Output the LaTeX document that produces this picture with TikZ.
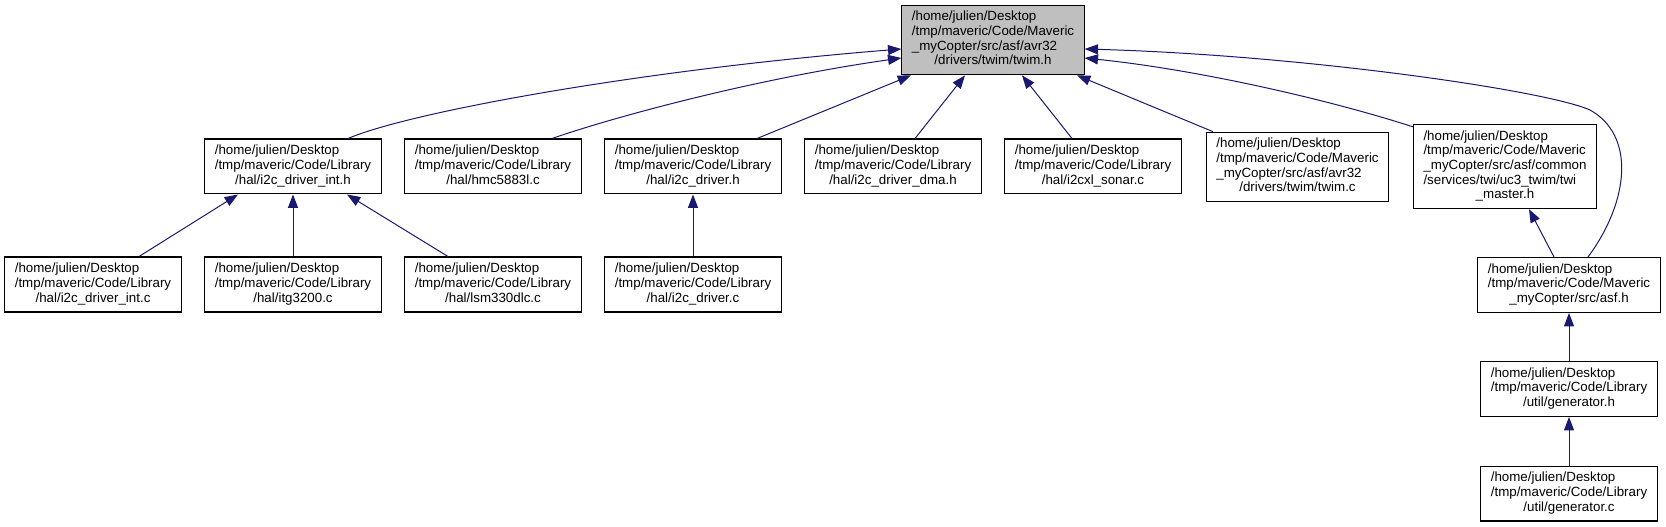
\documentclass[tikz,border=0pt]{standalone}
\usepackage{fontspec}
\setmainfont{Liberation Sans}
\usepackage{tikz}
\usetikzlibrary{arrows.meta, calc}
\definecolor{depblue}{RGB}{25,25,112}
\definecolor{curgray}{RGB}{191,191,191}
\newcommand{\plab}[2]{\begin{tabular}{@{}l@{}}#1\\\multicolumn{1}{@{}c@{}}{#2}\end{tabular}}
\tikzset{
  file/.style={rectangle, draw=black, fill=white, line width=0.8pt,
               inner xsep=7.5pt, inner ysep=4.1pt,
               font=\fontsize{10}{11}\selectfont},
  cur/.style={file, fill=curgray},
  dep/.style={-{Triangle[length=10pt, width=7.5pt]}, draw=depblue,
              line width=0.75pt}
}
\begin{document}
\begin{tikzpicture}[x=0.75pt, y=-0.75pt]
  \useasboundingbox (0,0) rectangle (1666,527);
  % included file
  \node[cur] (twimh) at (993,40)
    {\plab{/home/julien/Desktop\\/tmp/maveric/Code/Maveric\\\_myCopter/src/asf/avr32}{/drivers/twim/twim.h}};
  % direct includers
  \node[file] (drvinth) at (293,166.5)
    {\plab{/home/julien/Desktop\\/tmp/maveric/Code/Library}{/hal/i2c\_driver\_int.h}};
  \node[file] (hmcc) at (493,166.5)
    {\plab{/home/julien/Desktop\\/tmp/maveric/Code/Library}{/hal/hmc5883l.c}};
  \node[file] (drvh) at (693,166.5)
    {\plab{/home/julien/Desktop\\/tmp/maveric/Code/Library}{/hal/i2c\_driver.h}};
  \node[file] (dmah) at (893,166.5)
    {\plab{/home/julien/Desktop\\/tmp/maveric/Code/Library}{/hal/i2c\_driver\_dma.h}};
  \node[file] (sonarc) at (1093,166.5)
    {\plab{/home/julien/Desktop\\/tmp/maveric/Code/Library}{/hal/i2cxl\_sonar.c}};
  \node[file] (twimc) at (1297.5,167)
    {\plab{/home/julien/Desktop\\/tmp/maveric/Code/Maveric\\\_myCopter/src/asf/avr32}{/drivers/twim/twim.c}};
  \node[file] (masterh) at (1505,166.5)
    {\plab{/home/julien/Desktop\\/tmp/maveric/Code/Maveric\\\_myCopter/src/asf/common\\/services/twi/uc3\_twim/twi}{\_master.h}};
  % second level
  \node[file] (drvintc) at (93,284.5)
    {\plab{/home/julien/Desktop\\/tmp/maveric/Code/Library}{/hal/i2c\_driver\_int.c}};
  \node[file] (itgc) at (293,284.5)
    {\plab{/home/julien/Desktop\\/tmp/maveric/Code/Library}{/hal/itg3200.c}};
  \node[file] (lsmc) at (493,284.5)
    {\plab{/home/julien/Desktop\\/tmp/maveric/Code/Library}{/hal/lsm330dlc.c}};
  \node[file] (drvc) at (693,284.5)
    {\plab{/home/julien/Desktop\\/tmp/maveric/Code/Library}{/hal/i2c\_driver.c}};
  \node[file] (asfh) at (1569,285)
    {\plab{/home/julien/Desktop\\/tmp/maveric/Code/Maveric}{\_myCopter/src/asf.h}};
  \node[file] (genh) at (1569,389)
    {\plab{/home/julien/Desktop\\/tmp/maveric/Code/Library}{/util/generator.h}};
  \node[file] (genc) at (1569,493.5)
    {\plab{/home/julien/Desktop\\/tmp/maveric/Code/Library}{/util/generator.c}};

  % edges into twim.h
  \draw[dep] ($(drvinth.north)+(55,0)$) .. controls (410,112) and (640,70) .. ($(twimh.west)+(0,9)$);
  \draw[dep] ($(hmcc.north)+(59,0)$) .. controls (620,115) and (760,78) .. ($(twimh.west)+(0,18)$);
  \draw[dep] ($(drvh.north)+(64,0)$) -- ($(twimh.south)+(-82,0)$);
  \draw[dep] ($(dmah.north)+(22,0)$) -- ($(twimh.south)+(-28,0)$);
  \draw[dep] ($(sonarc.north)+(-21,0)$) -- ($(twimh.south)+(29,0)$);
  \draw[dep] ($(twimc.north)+(-84.5,0)$) -- ($(twimh.south)+(84,0)$);
  \draw[dep] ($(masterh.north west)+(0,3)$) .. controls (1330,100) and (1200,70) .. ($(twimh.east)+(0,18)$);
  \draw[dep] ($(asfh.north)+(19,0)$) .. controls (1630,200) and (1635,135) .. (1590,110)
    .. controls (1545,90) and (1300,55) .. ($(twimh.east)+(0,9)$);
  % lower edges
  \draw[dep] ($(drvintc.north)+(46,0)$) -- ($(drvinth.south)+(-55,0)$);
  \draw[dep] (itgc) -- (drvinth);
  \draw[dep] ($(lsmc.north)+(-45,0)$) -- ($(drvinth.south)+(54,0)$);
  \draw[dep] (drvc) -- (drvh);
  \draw[dep] ($(asfh.north)+(-15,0)$) -- ($(masterh.south)+(24,0)$);
  \draw[dep] (genh) -- (asfh);
  \draw[dep] (genc) -- (genh);
\end{tikzpicture}
\end{document}
